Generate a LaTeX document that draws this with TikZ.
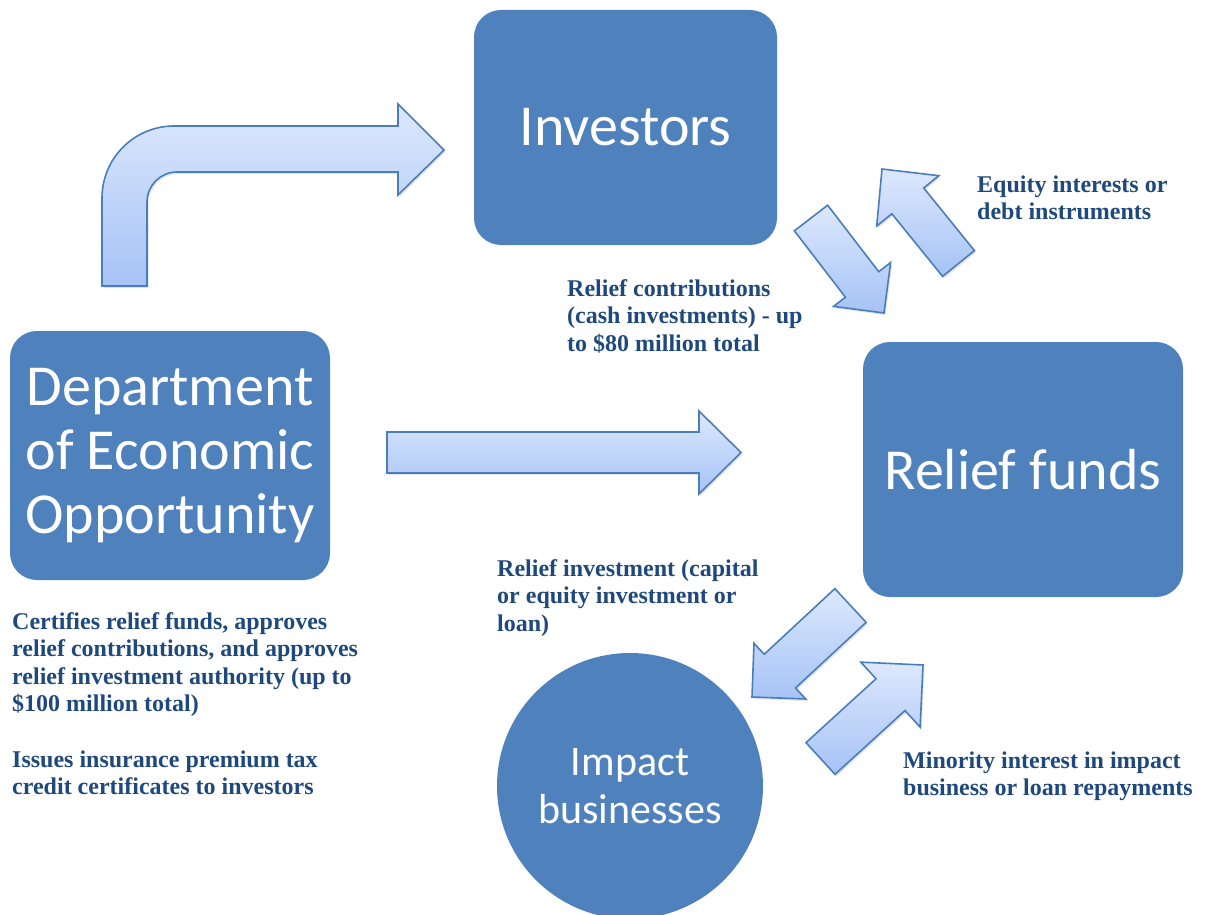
\documentclass[tikz,border=0pt]{standalone}
\usepackage{fontspec}
\usetikzlibrary{calc,shadows}
\newfontfamily\calibfont{Carlito}
\newfontfamily\timesfont{Liberation Serif}
\definecolor{boxblue}{HTML}{4F81BD}
\definecolor{arrline}{HTML}{4A7EBB}
\definecolor{arrtop}{HTML}{DDE8FD}
\definecolor{arrbot}{HTML}{A6C3F6}
\definecolor{lblblue}{HTML}{1F497D}
\tikzset{
  bigbox/.style={draw=none, fill=boxblue, rounded corners=27pt, text=white, inner sep=0pt,
    font=\calibfont\fontsize{58}{64}\selectfont, align=center},
  roundbox/.style={circle, draw=none, fill=boxblue, text=white, inner sep=0pt,
    font=\calibfont\fontsize{42}{48}\selectfont, align=center},
  blockarr/.style={draw=arrline, line width=1.6pt, top color=arrtop, bottom color=arrbot,
    line join=miter, drop shadow={shadow xshift=1.5pt, shadow yshift=-2pt, opacity=0.22}},
  lbl/.style={inner sep=0pt, anchor=base west, text=lblblue,
    font=\timesfont\bfseries\fontsize{24}{27.6}\selectfont},
}
% tail, tip, shaft half width, head half width, head length
\newcommand\blockarrow[5]{%
  \path (#2) coordinate (bT) ($(#2)!#5!(#1)$) coordinate (bH) (#1) coordinate (bA);
  \draw[blockarr] ($(bA)!#3!90:(bT)$) -- ($(bH)!#3!90:(bT)$) -- ($(bH)!#4!90:(bT)$)
    -- (bT) -- ($(bH)!#4!-90:(bT)$) -- ($(bH)!#3!-90:(bT)$) -- ($(bA)!#3!-90:(bT)$) -- cycle;
}
\begin{document}
\begin{tikzpicture}[x=1pt,y=-1pt]
\useasboundingbox (0,0) rectangle (1205,915);

% main shapes
\node[bigbox, minimum width=303pt, minimum height=235pt] (inv) at (625.5,127.5) {Investors};
\node[bigbox, minimum width=320pt, minimum height=249pt] (deo) at (170,455.5) {Department\\of Economic\\Opportunity};
\node[bigbox, minimum width=320pt, minimum height=255pt] (rf) at (1023,469.5) {Relief funds};
\node[roundbox, minimum size=266pt] (ib) at (630,786) {Impact\\businesses};

% bent arrow (Department -> Investors)
\draw[blockarr] (102,286) -- (102,198) arc[start angle=180, end angle=90, radius=72pt]
  -- (398,126) -- (398,104) -- (444,150) -- (398,195) -- (398,172) -- (177,172)
  arc[start angle=90, end angle=180, radius=30pt] -- (147,286) -- cycle;

% straight arrow (Department -> Relief funds)
\coordinate (s1) at (387,452.5);
\coordinate (s2) at (741,452.5);
\blockarrow{s1}{s2}{20.5pt}{41.5pt}{42pt}

% Investors <-> Relief funds
\coordinate (a1) at (811,218);
\coordinate (a2) at (884,313);
\blockarrow{a1}{a2}{21pt}{36pt}{36pt}
\coordinate (b1) at (958.5,263.5);
\coordinate (b2) at (882,169);
\blockarrow{b1}{b2}{20.5pt}{40pt}{41pt}

% Relief funds <-> Impact businesses
\coordinate (c1) at (850.5,605.5);
\coordinate (c2) at (752,697);
\blockarrow{c1}{c2}{23pt}{38pt}{38pt}
\coordinate (d1) at (820.5,758.5);
\coordinate (d2) at (923,665);
\blockarrow{d1}{d2}{21.5pt}{44pt}{44pt}

% labels
\node[lbl] (l1) at (567,296) {\vtop{\hbox{Relief contributions}\hbox{(cash investments) - up}\hbox{to \$80 million total}}};
\node[lbl] (l2) at (977,192) {\vtop{\hbox{Equity interests or}\hbox{debt instruments}}};
\node[lbl] (l3) at (497,576) {\vtop{\hbox{Relief investment (capital}\hbox{or equity investment or}\hbox{loan)}}};
\node[lbl] (l4) at (12,629) {\vtop{\hbox{Certifies relief funds, approves}\hbox{relief contributions, and approves}\hbox{relief investment authority (up to}\hbox{\$100 million total)}\hbox{}\hbox{Issues insurance premium tax}\hbox{credit certificates to investors}}};
\node[lbl] (l5) at (903,768) {\vtop{\hbox{Minority interest in impact}\hbox{business or loan repayments}}};
\end{tikzpicture}
\end{document}
